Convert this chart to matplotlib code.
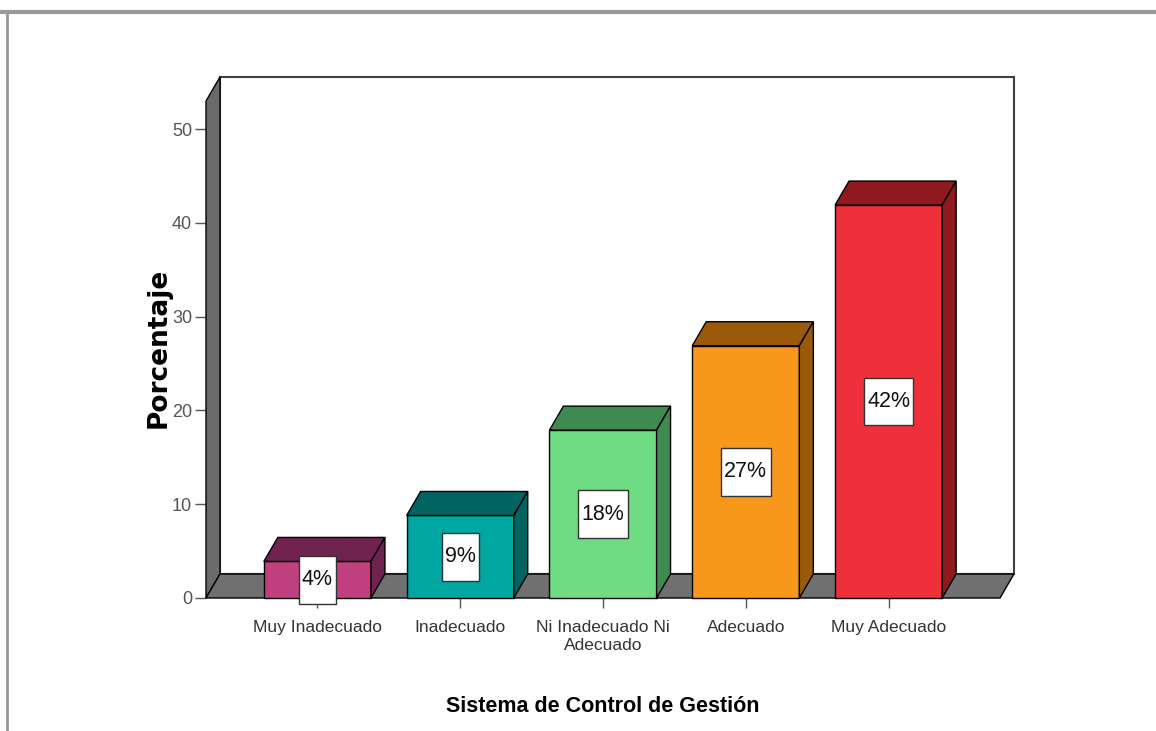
import matplotlib
matplotlib.use("Agg")
import matplotlib.pyplot as plt
from matplotlib.patches import Polygon, Rectangle
from matplotlib.lines import Line2D
from matplotlib.path import Path

categories = ["Muy Inadecuado", "Inadecuado", "Ni Inadecuado Ni\nAdecuado",
              "Adecuado", "Muy Adecuado"]
percentages = [3.9, 8.8, 17.9, 26.9, 41.9]
value_labels = ["4%", "9%", "18%", "27%", "42%"]
yticks = [0, 10, 20, 30, 40, 50]

front_colors = ["#c0407f", "#00a6a0", "#6edc82", "#f7981d", "#ee303a"]
dark_colors = ["#70234f", "#006461", "#3f8a50", "#9a5a0a", "#8e1a20"]

plt.rcParams["font.family"] = ["Liberation Sans", "DejaVu Sans"]


def tall_box(x0, y0, width, height, mutation_size):
    # label box with little side padding and more on top/bottom
    px = 0.15 * mutation_size
    py = 0.62 * mutation_size
    x0, y0 = x0 - px, y0 - py
    x1, y1 = x0 + width + 2 * px, y0 + height + 2 * py
    return Path([(x0, y0), (x1, y0), (x1, y1), (x0, y1), (x0, y0)], closed=True)


fig = plt.figure(figsize=(11.56, 7.31), dpi=100)
ax = fig.add_axes([206 / 1156, 1 - 598 / 731, 794 / 1156, 497 / 731])

xmin, xmax = -0.78, 4.78
ytop = 53
ax.set_xlim(xmin, xmax)
ax.set_ylim(0, ytop)

# depth offset of the pseudo-3D look, in data units
dx, dy = 0.098, 2.56
w = 0.75

# back wall, left wall, floor
ax.add_patch(Rectangle((xmin + dx, dy), xmax - xmin, ytop, facecolor="white",
                       edgecolor="#404040", lw=1.5, clip_on=False, zorder=1))
ax.add_patch(Polygon([(xmin, 0), (xmin, ytop), (xmin + dx, ytop + dy), (xmin + dx, dy)],
                     facecolor="#6b6b6b", edgecolor="black", lw=1, clip_on=False, zorder=2))
ax.add_patch(Polygon([(xmin, 0), (xmax, 0), (xmax + dx, dy), (xmin + dx, dy)],
                     facecolor="#707070", edgecolor="black", lw=1, clip_on=False, zorder=2))

for i, v in enumerate(percentages):
    l, r = i - w / 2, i + w / 2
    ax.add_patch(Rectangle((l, 0), w, v, facecolor=front_colors[i], edgecolor="black",
                           lw=1, clip_on=False, zorder=3))
    ax.add_patch(Polygon([(l, v), (r, v), (r + dx, v + dy), (l + dx, v + dy)],
                         facecolor=dark_colors[i], edgecolor="black", lw=1,
                         clip_on=False, zorder=3))
    ax.add_patch(Polygon([(r, 0), (r + dx, dy), (r + dx, v + dy), (r, v)],
                         facecolor=dark_colors[i], edgecolor="black", lw=1,
                         clip_on=False, zorder=3))
    ax.text(i, v / 2, value_labels[i], ha="center", va="center", fontsize=15.5,
            color="#111111", zorder=5,
            bbox=dict(boxstyle=tall_box, facecolor="white",
                      edgecolor="#333333", lw=1))

for s in ax.spines.values():
    s.set_visible(False)
ax.patch.set_visible(False)

ax.set_yticks(yticks)
ax.set_yticklabels([str(t) for t in yticks])
ax.set_xticks(range(len(categories)))
ax.set_xticklabels(categories, linespacing=1.25)
ax.tick_params(axis="y", length=8, width=1, color="#555555", labelcolor="#555555",
               labelsize=13, pad=2)
ax.tick_params(axis="x", length=7, width=1, color="#555555", labelcolor="#333333",
               labelsize=12.5, pad=9)

ax.set_ylabel("Porcentaje", fontsize=19, fontweight="bold", family=["DejaVu Sans"])
ax.yaxis.set_label_coords(-0.043, 0.503)
ax.set_xlabel("Sistema de Control de Gestión", fontsize=15.5, fontweight="bold",
              labelpad=31)

# outer frame lines
fig.add_artist(Line2D([0, 1], [1 - 12 / 731, 1 - 12 / 731], transform=fig.transFigure,
                      color="#999999", lw=3))
fig.add_artist(Line2D([7 / 1156, 7 / 1156], [0, 1 - 12 / 731], transform=fig.transFigure,
                      color="#999999", lw=2))

fig.savefig("out.png", dpi=100)
